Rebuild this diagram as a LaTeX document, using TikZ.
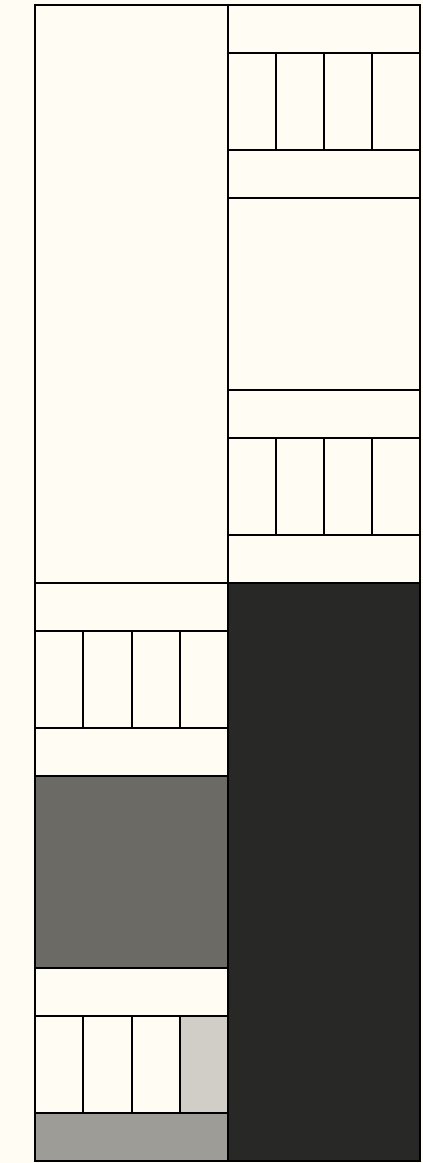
\documentclass[tikz,border=0pt]{standalone}
\definecolor{bgcream}{HTML}{FFFCF3}
\definecolor{darkfill}{HTML}{282826}
\definecolor{midgray}{HTML}{6B6A65}
\definecolor{lightgray}{HTML}{D0CEC7}
\definecolor{stripgray}{HTML}{9D9C97}
\tikzset{cell/.style={draw=black,line width=2pt,fill=bgcream}}
\begin{document}
\begin{tikzpicture}[x=1pt,y=-1pt]
\fill[bgcream] (0,0) rectangle (423,1163);
\useasboundingbox (0,0) rectangle (423,1163);
% left column
\draw[cell] (35,5) rectangle (228,583);
\draw[cell] (35,583) rectangle (228,631);
\foreach \i in {0,1,2,3}{\draw[cell] ({35+\i*48.25},631) rectangle ({35+(\i+1)*48.25},728);}
\draw[cell] (35,728) rectangle (228,776);
\draw[cell,fill=midgray] (35,776) rectangle (228,968);
\draw[cell] (35,968) rectangle (228,1016);
\foreach \i in {0,1,2}{\draw[cell] ({35+\i*48.25},1016) rectangle ({35+(\i+1)*48.25},1113);}
\draw[cell,fill=lightgray] (179.75,1016) rectangle (228,1113);
\draw[cell,fill=stripgray] (35,1113) rectangle (228,1161);
% right column
\draw[cell] (228,5) rectangle (420,53);
\foreach \i in {0,1,2,3}{\draw[cell] ({228+\i*48},53) rectangle ({228+(\i+1)*48},150);}
\draw[cell] (228,150) rectangle (420,198);
\draw[cell] (228,198) rectangle (420,390);
\draw[cell] (228,390) rectangle (420,438);
\foreach \i in {0,1,2,3}{\draw[cell] ({228+\i*48},438) rectangle ({228+(\i+1)*48},535);}
\draw[cell] (228,535) rectangle (420,583);
\draw[cell,fill=darkfill] (228,583) rectangle (420,1161);
\end{tikzpicture}
\end{document}
